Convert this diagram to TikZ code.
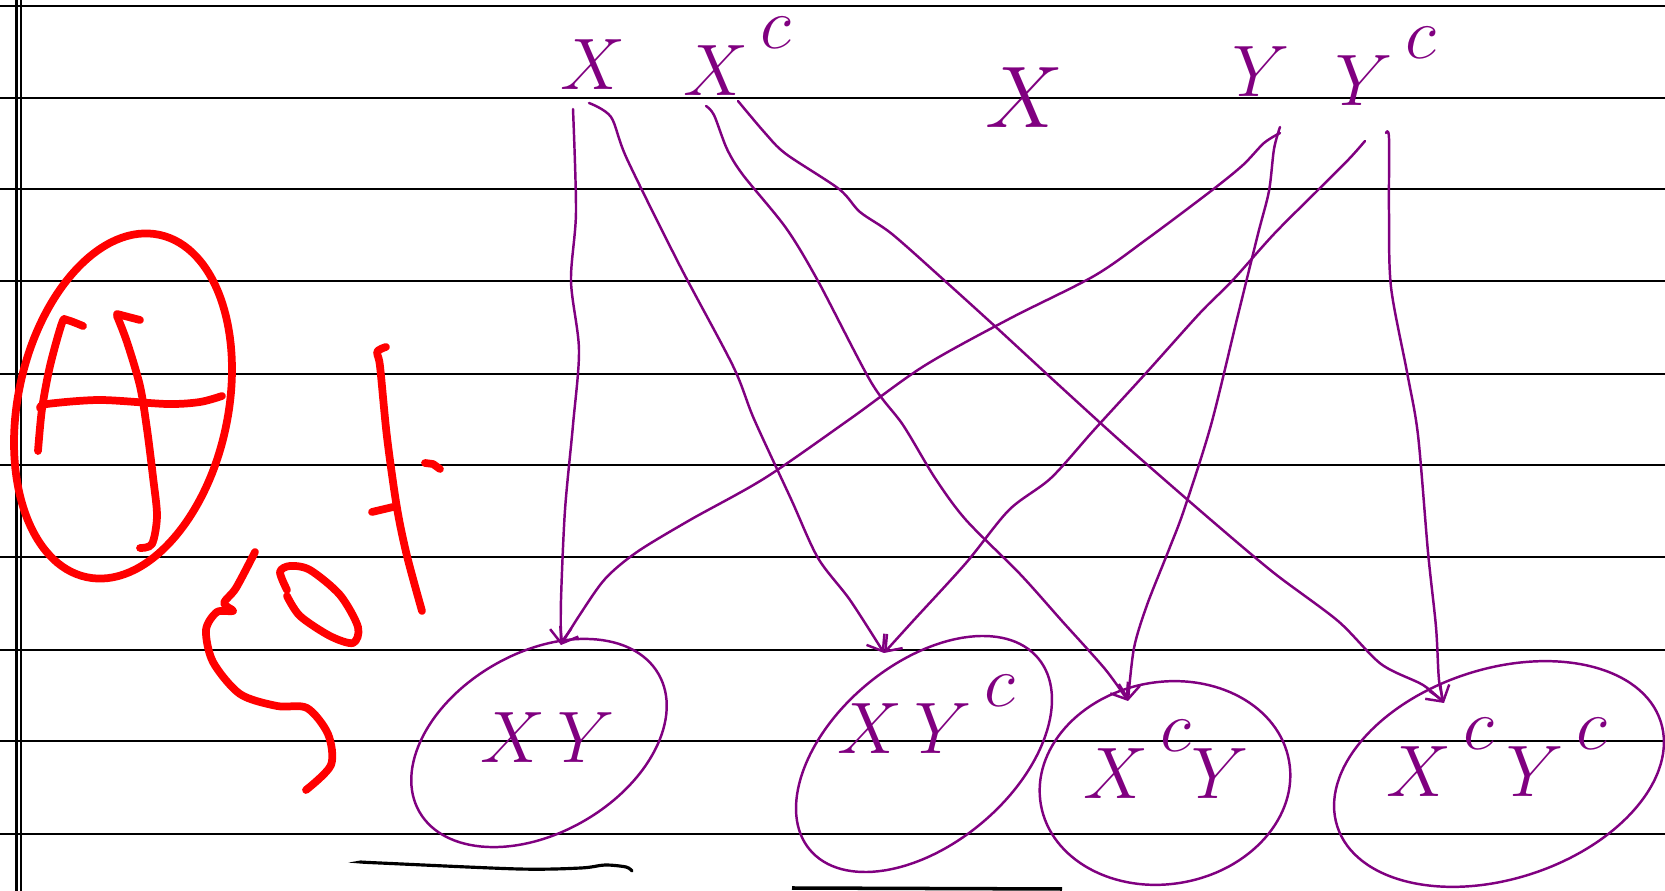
\documentclass[tikz,border=0pt]{standalone}
\usetikzlibrary{arrows.meta}
\definecolor{ink}{RGB}{128,0,128}
\newcommand{\setc}{\,\raisebox{0.62em}{$c$}}
\tikzset{
  ruleline/.style={black, line width=0.6pt},
  hand/.style={ink, line width=0.7pt, line cap=round, line join=round},
  conn/.style={hand, -{Straight Barb[length=4pt,width=6pt]}},
  redink/.style={red, line width=2.2pt, line cap=round, line join=round},
  lbl/.style={ink, inner sep=0pt, anchor=base west, font=\fontsize{22}{26}\selectfont},
}
\begin{document}
\begin{tikzpicture}[x=0.01cm, y=-0.01cm]
  \fill[white] (0,0) rectangle (1665,891);
  \useasboundingbox (0,0) rectangle (1665,891);

  % 1. ruled paper
  \foreach \yy in {6,98,189,281,374,465,557,650,741,834}
    \draw[ruleline] (0,\yy) -- (1665,\yy);
  \draw[ruleline] (16.5,0) -- (16.5,891);
  \draw[ruleline] (21,0) -- (21,891);

  % 2. top labels
  \node[lbl] (xt) at (560,90) {$X$};
  \node[lbl] (xct) at (683,96) {$X\setc$};
  \node[lbl, font=\fontsize{32}{36}\selectfont] (xmid) at (985,128) {$X$};
  \node[lbl] (yt) at (1232,97) {$Y$};
  \node[lbl] (yct) at (1335,106) {$Y\setc$};

  % 3. bottom sets
  \draw[hand, rotate around={30:(539,743)}] (539,743) ellipse (138 and 90);
  \draw[hand, rotate around={40:(924,754)}] (924,754) ellipse (149 and 90);
  \draw[hand, rotate around={10:(1165,783)}] (1165,783) ellipse (126 and 101);
  \draw[hand, rotate around={18:(1499,774)}] (1499,774) ellipse (170 and 105);
  \node[lbl] (lxy) at (480,763) {$X\,Y$};
  \node[lbl] (lxyc) at (837,754) {$X\,Y\setc$};
  \node[lbl] (lxcy) at (1083,799) {$X\setc Y$};
  \node[lbl] (lxcyc) at (1386,797) {$X\setc\,Y\setc$};

  % 4. connector ends
  \coordinate (xa) at (573,109);
  \coordinate (xb) at (589,103);
  \coordinate (xca) at (706,106);
  \coordinate (xcb) at (738,101);
  \coordinate (ya) at (1280,133);
  \coordinate (yb) at (1280,127);
  \coordinate (yca) at (1365,141);
  \coordinate (ycb) at (1386,133);
  \coordinate (inxy) at (561,645);
  \coordinate (inxyc) at (884,653);
  \coordinate (inxcy) at (1128,701);
  \coordinate (inxcyc) at (1444,703);

  % 5. connectors
  \draw[conn] plot[smooth] coordinates {(xa) (576,212) (571,281) (579,350) (573,425) (565,510) (561,600) (inxy)};
  \draw[conn] plot[smooth] coordinates {(xb) (611,117) (627,159) (680,266) (733,366) (754,419) (791,499) (818,558) (850,600) (inxyc)};
  \draw[conn] plot[smooth] coordinates {(xca) (714,115) (727,149) (743,175) (786,228) (818,281) (871,382) (903,425) (935,478) (966,520) (1020,574) (1062,621) (1105,669) (inxcy)};
  \draw[conn] plot[smooth] coordinates {(xcb) (765,133) (786,154) (839,189) (860,212) (892,234) (945,281) (998,329) (1062,388) (1126,446) (1211,520) (1274,573) (1338,621) (1381,664) (1423,685) (inxcyc)};
  \draw[conn] plot[smooth] coordinates {(ya) (1264,143) (1243,165) (1211,191) (1147,239) (1094,276) (1009,319) (924,366) (850,419) (765,478) (690,520) (637,552) (605,579) (579,616) (inxy)};
  \draw[conn] plot[smooth] coordinates {(yb) (1274,149) (1269,191) (1258,234) (1237,319) (1211,425) (1184,510) (1168,552) (1147,605) (1134,648) (inxcy)};
  \draw[conn] plot[smooth] coordinates {(yca) (1349,159) (1317,191) (1274,234) (1232,281) (1200,313) (1147,372) (1094,430) (1051,478) (1009,510) (966,563) (913,621) (inxyc)};
  \draw[conn] plot[smooth] coordinates {(ycb) (1389,138) (1389,212) (1391,287) (1407,372) (1418,435) (1428,552) (1436,627) (1439,680) (inxcyc)};

  % 6. red marks
  \draw[redink, rotate around={78:(123,406)}] (123,406) ellipse (175 and 105);
  \draw[redink] plot[smooth] coordinates {(38,451) (42,409) (50,366) (62,323) (67,320) (83,326)};
  \draw[redink] plot[smooth] coordinates {(40,408) (47,404) (100,400) (167,404) (200,402) (222,396)};
  \draw[redink] (140,320) -- (117,314);
  \draw[redink] plot[smooth] coordinates {(117,316) (127,342) (140,386) (147,429) (153,477) (157,516) (152,544) (140,548)};
  \draw[redink] plot[smooth] coordinates {(386,347) (377,352) (380,366) (387,437) (397,508) (407,556) (422,611)};
  \draw[redink] (372,512) -- (393,507);
  \draw[redink] (425,463) -- (433,464) -- (440,469);
  \draw[redink] plot[smooth] coordinates {(255,552) (236,588) (224,603) (233,611) (217,612) (206,630) (213,662) (240,694) (277,706) (307,708) (328,734) (331,765) (306,790)};
  \draw[redink] plot[smooth] coordinates {(287,590) (280,572) (290,566) (310,570) (340,595) (358,627) (353,643) (330,636) (300,616) (287,596)};

  % 7. underlines
  \draw[black, line width=0.9pt, line cap=round] plot[smooth] coordinates {(361,862) (380,863) (519,869) (581,868) (605,865) (626,867) (632,871)};
  \draw[black, line width=1pt] (792,888) -- (1062,889);
\end{tikzpicture}
\end{document}
